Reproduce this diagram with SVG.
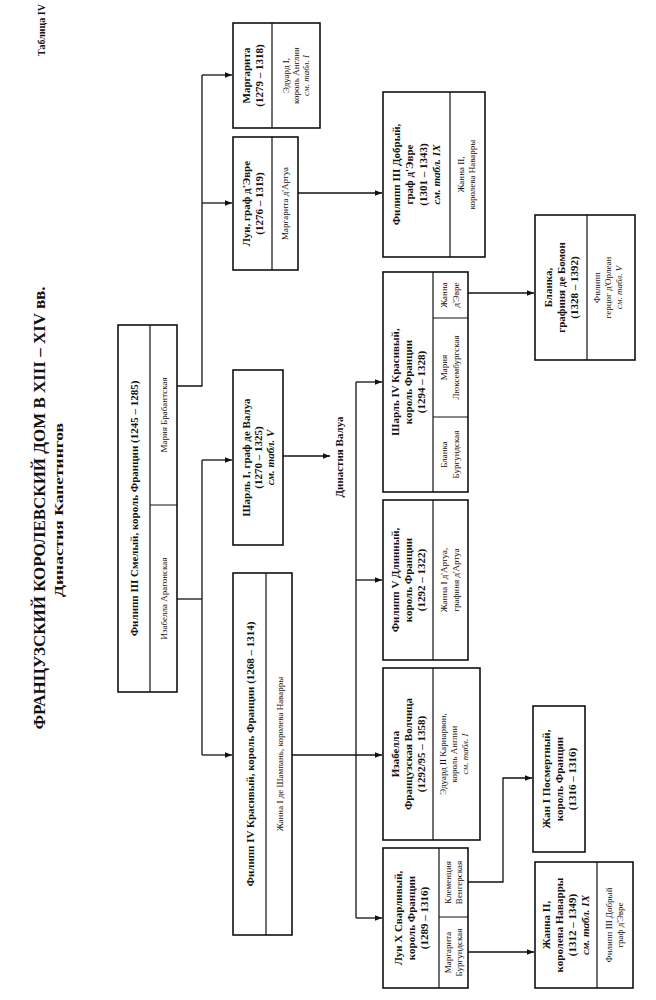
<svg xmlns="http://www.w3.org/2000/svg" width="656" height="1000" viewBox="0 0 656 1000">
<style>
text{font-family:"Liberation Serif","DejaVu Serif",serif;fill:#111;text-anchor:middle}
.n{font-weight:bold;font-size:11px}
.s{font-size:9px}
.i{font-style:italic}
.b{fill:#fff;stroke:#111;stroke-width:1.6}
.d{stroke:#111;stroke-width:1.2;fill:none}
.c path{stroke:#111;stroke-width:1.3;fill:none}
.t{font-weight:bold}
</style>
<defs><marker id="a" viewBox="0 0 10 10" refX="10" refY="5" markerWidth="7" markerHeight="7" orient="auto" markerUnits="userSpaceOnUse"><path d="M0,1L10,5L0,9z" fill="#111"/></marker></defs>
<rect width="656" height="1000" fill="#fff"/>
<g id="titles">
<text class="t" font-size="10" transform="translate(45,30) rotate(-90)">Таблица IV</text>
<text class="t" font-size="16" textLength="443" lengthAdjust="spacingAndGlyphs" transform="translate(45,508) rotate(-90)">ФРАНЦУЗСКИЙ КОРОЛЕВСКИЙ ДОМ В XIII – XIV вв.</text>
<text class="t" font-size="13" textLength="174" lengthAdjust="spacingAndGlyphs" transform="translate(63,510) rotate(-90)">Династия Капетингов</text>
<text class="t" font-size="11" transform="translate(343,457) rotate(-90)">Династия Валуа</text>
</g>
<g class="c" id="connectors">
<path d="M177,386H202V75"/>
<path d="M202,75H232" marker-end="url(#a)"/>
<path d="M202,203H232" marker-end="url(#a)"/>
<path d="M177,599H202"/>
<path d="M202,460V755"/>
<path d="M202,460H232" marker-end="url(#a)"/>
<path d="M202,755H232" marker-end="url(#a)"/>
<path d="M298,193H382" marker-end="url(#a)"/>
<path d="M283,456H330" marker-end="url(#a)"/>
<path d="M292,755H382" marker-end="url(#a)"/>
<path d="M356,382V918"/>
<path d="M356,382H382" marker-end="url(#a)"/>
<path d="M356,580H382" marker-end="url(#a)"/>
<path d="M356,918H382" marker-end="url(#a)"/>
<path d="M468,293H534" marker-end="url(#a)"/>
<path d="M468,882H503V778H532" marker-end="url(#a)"/>
<path d="M468,952H534" marker-end="url(#a)"/>
</g>
<g id="philippe3" transform="translate(118,692) rotate(-90)">
<rect class="b" width="367" height="59"/><path class="d" d="M0,32H367M187,32V59"/>
<text class="n" x="183.5" y="20" font-size="12">Филипп III Смелый, король Франции (1245 – 1285)</text>
<text class="s" x="93.5" y="49">Изабелла Арагонская</text>
<text class="s" x="277" y="49">Мария Брабантская</text>
</g>
<g id="philippe4" transform="translate(233,935) rotate(-90)">
<rect class="b" width="362" height="59"/><path class="d" d="M0,33H362"/>
<text class="n" x="181" y="21" font-size="12">Филипп IV Красивый, король Франции (1268 – 1314)</text>
<text class="s" x="181" y="50">Жанна I де Шампань, королева Наварры</text>
</g>
<g id="charles1" transform="translate(233,545) rotate(-90)">
<rect class="b" width="175" height="50"/>
<text class="n" x="87.5" y="17">Шарль I, граф де Валуа<tspan x="87.5" dy="12">(1270 – 1325)</tspan><tspan class="i" x="87.5" dy="12">см. табл. V</tspan></text>
</g>
<g id="marguerite" transform="translate(233,128) rotate(-90)">
<rect class="b" width="105" height="87"/><path class="d" d="M0,39H105"/>
<text class="n" x="52.5" y="17">Маргарита<tspan x="52.5" dy="13">(1279 – 1318)</tspan></text>
<text class="s" x="52.5" y="56">Эдуард I,<tspan x="52.5" dy="10">король Англии</tspan><tspan class="i" x="52.5" dy="10">см. табл. I</tspan></text>
</g>
<g id="louis-evreux" transform="translate(233,270) rotate(-90)">
<rect class="b" width="133" height="65"/><path class="d" d="M0,39H133"/>
<text class="n" x="66.5" y="17">Луи, граф д'Эвре<tspan x="66.5" dy="13">(1276 – 1319)</tspan></text>
<text class="s" x="66.5" y="55">Маргарита д'Артуа</text>
</g>
<g id="philippe-evreux" transform="translate(383,257) rotate(-90)">
<rect class="b" width="165" height="102"/><path class="d" d="M0,67H165"/>
<text class="n" x="82.5" y="16.5">Филипп III Добрый,<tspan x="82.5" dy="13.5">граф д'Эвре</tspan><tspan x="82.5" dy="13.5">(1301 – 1343)</tspan><tspan class="i" x="82.5" dy="13.5">см. табл. IX</tspan></text>
<text class="s" x="82.5" y="81">Жанна II,<tspan x="82.5" dy="11">королева Наварры</tspan></text>
</g>
<g id="charles4" transform="translate(383,492) rotate(-90)">
<rect class="b" width="220" height="85"/><path class="d" d="M0,50H220M75,50V85M174,50V85"/>
<text class="n" x="110" y="15.5">Шарль IV Красивый,<tspan x="110" dy="13">король Франции</tspan><tspan x="110" dy="13">(1294 – 1328)</tspan></text>
<text class="s" x="37.5" y="64">Бланка<tspan x="37.5" dy="12">Бургундская</tspan></text>
<text class="s" x="124.5" y="64">Мария<tspan x="124.5" dy="12">Люксембургская</tspan></text>
<text class="s" x="197" y="64">Жанна<tspan x="197" dy="12">д'Эвре</tspan></text>
</g>
<g id="philippe5" transform="translate(383,660) rotate(-90)">
<rect class="b" width="160" height="85"/><path class="d" d="M0,50H160"/>
<text class="n" x="80" y="15.5">Филипп V Длинный,<tspan x="80" dy="13">король Франции</tspan><tspan x="80" dy="13">(1292 – 1322)</tspan></text>
<text class="s" x="80" y="64">Жанна I д'Артуа,<tspan x="80" dy="12">графиня д'Артуа</tspan></text>
</g>
<g id="isabelle" transform="translate(383,840) rotate(-90)">
<rect class="b" width="172" height="97"/><path class="d" d="M0,50H172"/>
<text class="n" x="86" y="15.5">Изабелла<tspan x="86" dy="13">Французская Волчица</tspan><tspan x="86" dy="13">(1292/95 – 1358)</tspan></text>
<text class="s" x="86" y="63">Эдуард II Карнарвон,<tspan x="86" dy="11">король Англии</tspan><tspan class="i" x="86" dy="11">см. табл. I</tspan></text>
</g>
<g id="louis10" transform="translate(383,988) rotate(-90)">
<rect class="b" width="140" height="85"/><path class="d" d="M0,56H140M71,56V85"/>
<text class="n" x="70" y="18.5">Луи X Сварливый,<tspan x="70" dy="13">король Франции</tspan><tspan x="70" dy="13">(1289 – 1316)</tspan></text>
<text class="s" x="35.5" y="68">Маргарита<tspan x="35.5" dy="11">Бургундская</tspan></text>
<text class="s" x="105.5" y="68">Клеменция<tspan x="105.5" dy="11">Венгерская</tspan></text>
</g>
<g id="blanche" transform="translate(535,360) rotate(-90)">
<rect class="b" width="145" height="100"/><path class="d" d="M0,52H145"/>
<text class="n" x="72.5" y="16.5">Бланка,<tspan x="72.5" dy="13">графиня де Бомон</tspan><tspan x="72.5" dy="13">(1328 – 1392)</tspan></text>
<text class="s" x="72.5" y="65">Филипп<tspan x="72.5" dy="11">герцог д'Орлеан</tspan><tspan class="i" x="72.5" dy="11">см. табл. V</tspan></text>
</g>
<g id="jean1" transform="translate(533,852) rotate(-90)">
<rect class="b" width="146" height="52"/>
<text class="n" x="73" y="17">Жан I Посмертный,<tspan x="73" dy="13">король Франции</tspan><tspan x="73" dy="13">(1316 – 1316)</tspan></text>
</g>
<g id="jeanne2" transform="translate(535,988) rotate(-90)">
<rect class="b" width="126" height="98"/><path class="d" d="M0,62H126"/>
<text class="n" x="63" y="15">Жанна II,<tspan x="63" dy="13">королева Наварры</tspan><tspan x="63" dy="13">(1312 – 1349)</tspan><tspan class="i" x="63" dy="13">см. табл. IX</tspan></text>
<text class="s" x="63" y="77">Филипп III Добрый<tspan x="63" dy="11">граф д'Эвре</tspan></text>
</g>
</svg>
